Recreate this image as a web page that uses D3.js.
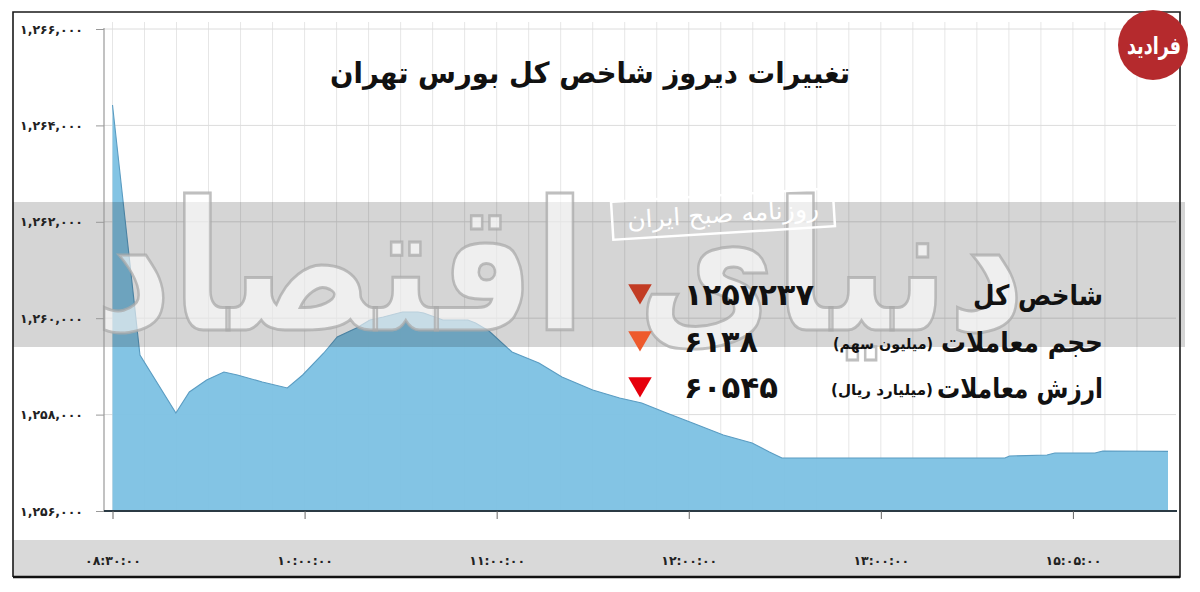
<!DOCTYPE html>
<html><head><meta charset="utf-8">
<script src="https://cdn.jsdelivr.net/npm/d3@7"></script>
<style>
html,body{margin:0;padding:0;background:#fff;}
svg{display:block;font-family:"DejaVu Sans",sans-serif;}
</style></head>
<body>
<svg id="chart" width="1200" height="592"></svg>
<script>
// ---- data ----
const titleText = "تغییرات دیروز شاخص کل بورس تهران";
const yTickValues = [1256000, 1258000, 1260000, 1262000, 1264000, 1266000];
const xTickPos = [0, 1, 2, 3, 4, 5];
const xTickLabels = ["۰۸:۳۰:۰۰", "۱۰:۰۰:۰۰", "۱۱:۰۰:۰۰", "۱۲:۰۰:۰۰", "۱۳:۰۰:۰۰", "۱۵:۰۵:۰۰"];
// position along the time axis, in tick units (0 = first tick)
const pointPos = [0, 0.143, 0.33, 0.40, 0.49, 0.58, 0.65, 0.78, 0.91, 0.99, 1.10, 1.17, 1.27, 1.34, 1.41, 1.51, 1.59, 1.62, 1.72, 1.85, 1.89, 1.96, 2.08, 2.22, 2.34, 2.50, 2.64, 2.755, 2.885, 3.02, 3.18, 3.33, 3.42, 3.485, 4.646, 4.67, 4.865, 4.906, 5.115, 5.156, 5.495];
const indexValues = [1264423, 1259237, 1258033, 1258469, 1258718, 1258884, 1258822, 1258677, 1258552, 1258822, 1259278, 1259610, 1259797, 1259963, 1260025, 1260129, 1260129, 1260108, 1259963, 1259963, 1259901, 1259735, 1259299, 1259071, 1258780, 1258510, 1258345, 1258241, 1258033, 1257826, 1257577, 1257411, 1257224, 1257100, 1257100, 1257141, 1257162, 1257203, 1257203, 1257245, 1257237];
const infoLabels = ["شاخص کل", "حجم معاملات", "ارزش معاملات"];
const infoUnits = ["", "(میلیون سهم)", "(میلیارد ریال)"];
const infoValues = ["۱۲۵۷۲۳۷", "۶۱۳۸", "۶۰۵۴۵"];
const infoColors = ["#c23c24", "#ee5a2c", "#e6000c"];
const stampText = "روزنامه صبح ایران";
const watermarkText = "دنیای اقتصاد";
const logoText = "فرادید";

// ---- helpers ----
const faDigits = "۰۱۲۳۴۵۶۷۸۹";
const toFa = s => String(s).replace(/[0-9]/g, d => faDigits[+d]);
const fmt = v => toFa(d3.format(",")(v));

const svg = d3.select("#chart");

const x = d3.scaleLinear().domain([0, 5.495]).range([112.5, 1168]);
const y = d3.scaleLinear().domain([1256000, 1266000]).range([511, 29]);

// gridlines
const grid = svg.append("g");
const vgrid = d3.range(0, 5.5, 1 / 6);
grid.selectAll(".vg").data(vgrid).join("line")
  .attr("x1", d => x(d)).attr("x2", d => x(d))
  .attr("y1", 22).attr("y2", 511)
  .attr("stroke", "#e6e6e6").attr("stroke-width", 1);
grid.selectAll(".hg").data(yTickValues).join("line")
  .attr("x1", 104).attr("x2", 1176)
  .attr("y1", d => y(d)).attr("y2", d => y(d))
  .attr("stroke", "#dcdcdc").attr("stroke-width", 1);

// area
const pts = pointPos.map((p, i) => [p, indexValues[i]]);
const area = d3.area().x(d => x(d[0])).y0(y(1256000)).y1(d => y(d[1]));
const line = d3.line().x(d => x(d[0])).y(d => y(d[1]));
svg.append("path").datum(pts).attr("d", area)
  .attr("fill", "#7cc1e3").attr("fill-opacity", 0.95);
svg.append("path").datum(pts).attr("d", line)
  .attr("fill", "none").attr("stroke", "#5a9cc2").attr("stroke-width", 1.1);

// gray watermark band
svg.append("rect").attr("x", 13).attr("y", 202).attr("width", 1172).attr("height", 145)
  .attr("fill", "#000").attr("fill-opacity", 0.165);

// watermark text
svg.append("text").attr("x", 560).attr("y", 330)
  .attr("text-anchor", "middle").attr("font-size", 180).attr("font-weight", "bold")
  .attr("textLength", 930).attr("lengthAdjust", "spacingAndGlyphs")
  .attr("fill", "#fff").attr("fill-opacity", 0.62)
  .attr("stroke", "#a9a9a9").attr("stroke-width", 3).attr("stroke-opacity", 0.75)
  .text(watermarkText);

// stamp
const stamp = svg.append("g").attr("transform", "translate(723,214) rotate(-3.5)");
stamp.append("rect").attr("x", -111).attr("y", -19).attr("width", 222).attr("height", 38)
  .attr("fill", "none").attr("stroke", "#fff").attr("stroke-width", 2.5);
stamp.append("text").attr("text-anchor", "middle").attr("dy", "0.35em")
  .attr("font-size", 24).attr("fill", "#fff")
  .attr("textLength", 192).attr("lengthAdjust", "spacingAndGlyphs").text(stampText);

// y axis
const yAxis = d3.axisLeft(y).tickValues(yTickValues).tickSize(8).tickFormat(fmt);
const gy = svg.append("g").attr("transform", "translate(104,0)").call(yAxis);
gy.select(".domain").attr("stroke", "#999").attr("stroke-width", 1.2)
  .attr("d", "M0,28V511");
gy.selectAll(".tick line").attr("stroke", "#999");
gy.selectAll(".tick text").attr("x", -21).attr("font-size", 12.5).attr("font-weight", "bold")
  .attr("fill", "#222").attr("font-family", "DejaVu Sans");

// bottom gray band
svg.append("rect").attr("x", 13).attr("y", 540).attr("width", 1167).attr("height", 37)
  .attr("fill", "#d9d9d9");

// x axis
const xAxis = d3.axisBottom(x).tickValues(xTickPos).tickSize(8)
  .tickFormat((d, i) => xTickLabels[i]);
const gx = svg.append("g").attr("transform", "translate(0,511)").call(xAxis);
gx.select(".domain").attr("stroke", "#2b3a44").attr("stroke-width", 2)
  .attr("d", "M104,0H1177");
gx.selectAll(".tick line").attr("stroke", "#666");
gx.selectAll(".tick text").attr("y", 45).attr("font-size", 12.5).attr("font-weight", "bold")
  .attr("fill", "#222").attr("font-family", "DejaVu Sans");

// frame
svg.append("path").attr("d", "M13,577V12H1180V577H13")
  .attr("fill", "none").attr("stroke", "#1a1a1a").attr("stroke-width", 1.6);
svg.append("line").attr("x1", 13).attr("x2", 1180).attr("y1", 577).attr("y2", 577)
  .attr("stroke", "#111").attr("stroke-width", 2.5);

// title
svg.append("text").attr("x", 590).attr("y", 83).attr("text-anchor", "middle")
  .attr("font-size", 29).attr("font-weight", "bold").attr("fill", "#111")
  .attr("textLength", 520).attr("lengthAdjust", "spacingAndGlyphs").text(titleText);

// info block
const rowsY = [305, 352, 398];
const labelW = [130, 162, 166];
const unitW = [0, 100, 102];
const valueW = [130, 74, 94];
const info = svg.append("g");
infoLabels.forEach((lab, i) => {
  info.append("text").attr("x", 1103 - labelW[i]).attr("y", rowsY[i])
    .attr("text-anchor", "start").attr("font-size", 28).attr("font-weight", "bold")
    .attr("textLength", labelW[i]).attr("lengthAdjust", "spacingAndGlyphs")
    .attr("fill", "#111").text(lab);
  if (infoUnits[i]) {
    info.append("text").attr("x", 933 - unitW[i]).attr("y", rowsY[i] - 3).attr("direction", "rtl")
      .attr("text-anchor", "end").attr("font-size", 15).attr("font-weight", "bold")
      .attr("textLength", unitW[i]).attr("lengthAdjust", "spacingAndGlyphs")
      .attr("fill", "#111").text(infoUnits[i]);
  }
  info.append("text").attr("x", 684).attr("y", rowsY[i]).attr("text-anchor", "start")
    .attr("font-size", 30).attr("font-weight", "bold").attr("fill", "#111")
    .attr("textLength", valueW[i]).attr("lengthAdjust", "spacingAndGlyphs").text(infoValues[i]);
  info.append("path")
    .attr("d", d3.symbol(d3.symbolTriangle, 240)())
    .attr("transform", `translate(640,${rowsY[i] - 14}) rotate(180)`)
    .attr("fill", infoColors[i]);
});

// logo
svg.append("circle").attr("cx", 1153).attr("cy", 45).attr("r", 35).attr("fill", "#b52a2d");
svg.append("text").attr("x", 1127).attr("y", 54)
  .attr("text-anchor", "start").attr("font-size", 24).attr("font-weight", "bold").attr("fill", "#fff")
  .attr("textLength", 54).attr("lengthAdjust", "spacingAndGlyphs").text(logoText);
</script>
</body></html>
